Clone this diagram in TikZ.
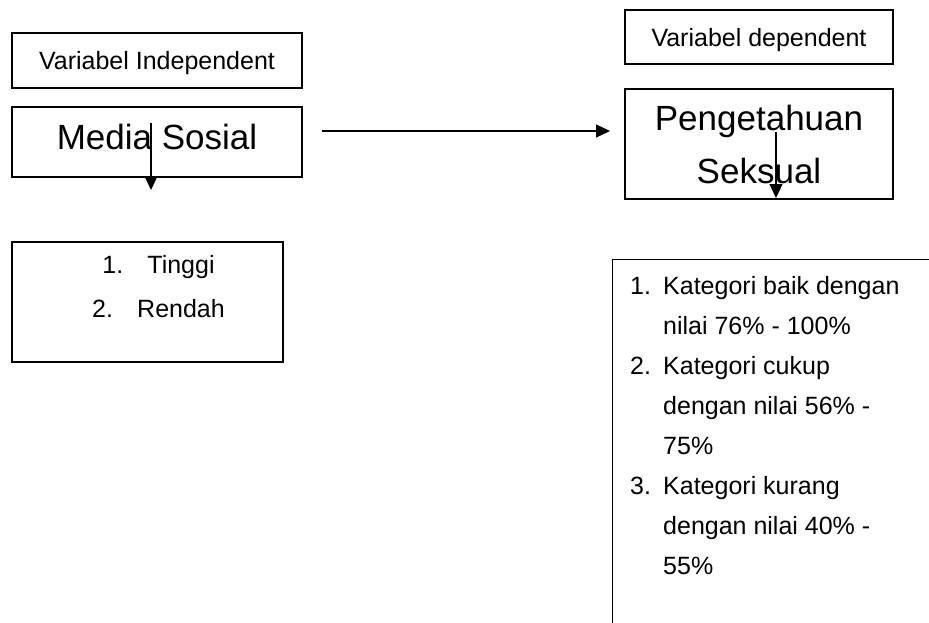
\documentclass[tikz,border=0pt]{standalone}
\usepackage{fontspec}
\setmainfont{Liberation Sans}
\usetikzlibrary{arrows.meta}

\tikzset{
  kotak/.style={draw, line width=1.3pt, inner sep=0pt},
  panah/.style={line width=1.2pt, -{Triangle[length=14pt,width=13pt]}},
  kecil/.style={font=\fontsize{25}{30}\selectfont},
  besar/.style={font=\fontsize{35}{53}\selectfont},
}

\begin{document}
\begin{tikzpicture}[x=1pt,y=-1pt]
\clip (0,0) rectangle (929,623);
\fill[white] (0,0) rectangle (929,623);
\node[kotak,kecil,minimum width=290pt,minimum height=55pt,text depth=0pt](indep)at(157,60.5){Variabel Independent};
\node[kotak,besar,minimum width=290pt,minimum height=70pt,text depth=10pt](media)at(157,142){Media Sosial};
\node[kotak,kecil,minimum width=268pt,minimum height=54pt,text depth=0pt](dep)at(759,37){Variabel dependent};
\node[kotak,besar,minimum width=268pt,minimum height=110pt,align=center](penget)at(759,144){Pengetahuan\\Seksual};
\node[kotak,minimum width=271pt,minimum height=120pt](skala)at(147.5,302){};
\node[inner sep=0pt,align=center,font=\fontsize{25}{44}\selectfont,anchor=north]
  (skalateks)at(158.5,255){\makebox[45pt][l]{1.}Tinggi\\\makebox[45pt][l]{2.}Rendah};
\node[kotak,minimum width=400pt,minimum height=420pt,anchor=north west](kriteria)at(612,259){};
\node[inner sep=0pt,align=left,font=\fontsize{25}{40}\selectfont,anchor=north west]
  (kriteriateks)at(630,276){\makebox[33pt][l]{1.}Kategori baik dengan\\
  \hspace*{33pt}nilai 76\% - 100\%\\
  \makebox[33pt][l]{2.}Kategori cukup\\
  \hspace*{33pt}dengan nilai 56\% -\\
  \hspace*{33pt}75\%\\
  \makebox[33pt][l]{3.}Kategori kurang\\
  \hspace*{33pt}dengan nilai 40\% -\\
  \hspace*{33pt}55\%};
\coordinate(m1)at(151,123);
\coordinate(m2)at(151,190);
\coordinate(h1)at(322,131);
\coordinate(h2)at(610,131);
\coordinate(p1)at(776,132);
\coordinate(p2)at(776,198);
\draw[panah](m1)--(m2);
\draw[panah](h1)--(h2);
\draw[panah](p1)--(p2);
\end{tikzpicture}
\end{document}
